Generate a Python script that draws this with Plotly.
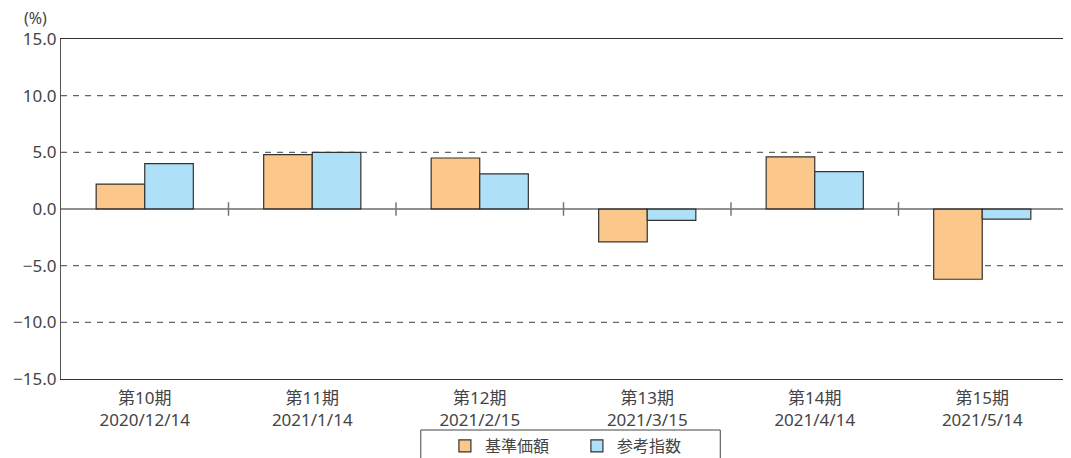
import plotly.graph_objects as go

periods = ["第10期", "第11期", "第12期", "第13期", "第14期", "第15期"]
dates = ["2020/12/14", "2021/1/14", "2021/2/15", "2021/3/15", "2021/4/14", "2021/5/14"]
nav = [2.2, 4.8, 4.5, -2.9, 4.6, -6.2]
ref = [4.0, 5.0, 3.1, -1.0, 3.3, -0.9]
yticks = [-15, -10, -5, 0, 5, 10, 15]

xpos = list(range(len(periods)))
labels = [f"{p}<br>{d}" for p, d in zip(periods, dates)]
FONT = "Noto Sans, Noto Sans CJK JP, sans-serif"
TXT = "#444444"

fig = go.Figure()
fig.add_bar(x=xpos, y=nav, name="基準価額", marker=dict(color="#FBC78A", line=dict(color="#333333", width=1.2)))
fig.add_bar(x=xpos, y=ref, name="参考指数", marker=dict(color="#AEE0F8", line=dict(color="#333333", width=1.2)))

# gridlines dashed
for v in [-10, -5, 5, 10]:
    fig.add_shape(type="line", xref="paper", x0=0, x1=1, y0=v, y1=v,
                  line=dict(color="#666666", width=1.2, dash="6px,6px"), layer="below")
# zero line
fig.add_shape(type="line", xref="paper", x0=0, x1=1, y0=0, y1=0,
              line=dict(color="#222222", width=1.2), layer="above")
# category separator ticks on zero line
for i in range(len(periods) - 1):
    fig.add_shape(type="line", x0=i + 0.5, x1=i + 0.5, y0=-0.6, y1=0.6,
                  line=dict(color="#777777", width=1.5))
# legend frame
fig.add_shape(type="rect", xref="paper", yref="paper", x0=0.358, x1=0.656, y0=-0.15, y1=-0.3,
              line=dict(color="#444444", width=1), fillcolor="rgba(0,0,0,0)")

fig.add_annotation(text="(%)", xref="paper", yref="paper", x=-0.025, y=1.0, yshift=21,
                   xanchor="center", yanchor="middle", showarrow=False,
                   font=dict(size=16, color=TXT, family=FONT))

# page body has an 8px default margin, so the figure is offset by 8px
fig.update_layout(
    width=1063, height=450,
    margin=dict(l=53, r=5, t=31, b=79, autoexpand=False),
    paper_bgcolor="white", plot_bgcolor="white",
    barmode="group", bargap=0.42, bargroupgap=0,
    font=dict(family=FONT, size=17, color=TXT),
    showlegend=True,
    legend=dict(orientation="h", x=0.382, xanchor="left", y=-0.147, yanchor="top",
                borderwidth=0, font=dict(size=16, color=TXT),
                entrywidth=87, entrywidthmode="pixels", bgcolor="rgba(0,0,0,0)"),
    xaxis=dict(range=[-0.5, 5.5], tickvals=xpos, ticktext=labels, showgrid=False,
               showline=True, linecolor="#333333", linewidth=1.2, mirror=True,
               ticks="", zeroline=False, automargin=False, ticklabelstandoff=3,
               tickfont=dict(size=17, color=TXT)),
    yaxis=dict(range=[-15, 15], tickvals=yticks, tickformat=".1f", showgrid=False,
               showline=True, linecolor="#555555", linewidth=1.2, zeroline=False,
               ticks="", automargin=False, tickfont=dict(size=17, color=TXT)),
)

fig.write_html("out.html")
